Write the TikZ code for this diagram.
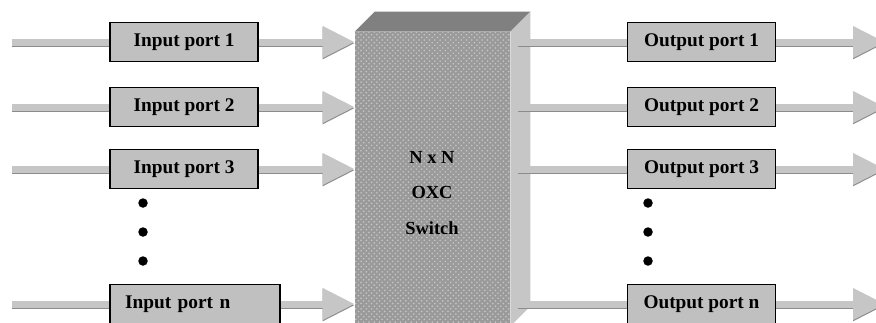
\documentclass[tikz,border=0pt]{standalone}
\usepackage{fontspec}
\setmainfont{Liberation Serif}
\usetikzlibrary{arrows.meta,calc,patterns}
\definecolor{wire}{HTML}{C6C6C6}
\definecolor{wireedge}{HTML}{8C8C8C}
\definecolor{portgrey}{HTML}{C0C0C0}
\definecolor{frontgrey}{HTML}{9A9A9A}
\definecolor{dotgrey}{HTML}{C8C8C8}
\definecolor{topgrey}{HTML}{808080}
\definecolor{sidegrey}{HTML}{C6C6C6}
\tikzset{
  port/.style={draw=black,line width=0.8pt,fill=portgrey,minimum width=#1,minimum height=0.78cm,
    inner sep=0pt,font=\bfseries\fontsize{11}{13}\selectfont},
  port/.default=2.96cm,
  wireline/.style={draw=wire,line width=0.14cm,
    preaction={draw=wireedge,line width=0.14cm,transform canvas={yshift=-0.025cm}}},
  wirearrow/.style={wireline,-{Triangle[length=0.64cm,width=0.6cm]}},
  vdot/.style={circle,fill=black,inner sep=0pt,minimum width=0.19cm,minimum height=0.16cm},
}

\begin{document}
\begin{tikzpicture}[x=0.02cm,y=-0.02cm]
  \useasboundingbox (0,0) rectangle (876,322);
  \clip (0,0) rectangle (876,322);
  % the switch: front face, top and side
  \node[draw=none,fill=frontgrey,minimum width=3.1cm,minimum height=5.88cm,inner sep=0pt,
    postaction={pattern=crosshatch dots,pattern color=dotgrey}] (sw) at (432.5,179) {};
  \fill[topgrey] (sw.north west) -- ++(20,-20) -- ($(sw.north east)+(20,-20)$) -- (sw.north east) -- cycle;
  \fill[sidegrey] (sw.north east) -- ++(20,-20) -- ($(sw.south east)+(20,-20)$) -- (sw.south east) -- cycle;
  \node[align=center,font=\bfseries\fontsize{10.5}{20.4}\selectfont] (swtxt) at (432,193) {N x N\\OXC\\Switch};
  % input ports
  \foreach \i/\y in {1/42,2/107,3/169} {
    \coordinate (src\i) at (12,\y);
    \node[port] (in\i) at (184,\y) {Input port \i};
    \draw[wireline] (src\i) -- (in\i.west);
    \draw[wirearrow] (in\i.east) -- (in\i.east -| sw.west);
  }
  \coordinate (srcn) at (12,304);
  \node[port=3.4cm,text width=2.8cm,align=left,inner xsep=0.3cm] (inn) at (195,304) {Input port n};
  \draw[wireline] (srcn) -- (inn.west);
  \draw[wirearrow] (inn.east) -- (inn.east -| sw.west);
  % output ports
  \foreach \i/\y in {1/42,2/107,3/169} {
    \coordinate (snk\i) at (885,\y);
    \node[port] (out\i) at (701.5,\y) {Output port \i};
    \draw[wireline] ($(sw.east |- out\i)+(8,0)$) -- (out\i.west);
    \draw[wirearrow] (out\i.east) -- (snk\i);
  }
  \coordinate (snkn) at (885,304);
  \node[port] (outn) at (701.5,304) {Output port n};
  \draw[wireline] ($(sw.east |- outn)+(8,0)$) -- (outn.west);
  \draw[wirearrow] (outn.east) -- (snkn);
  % dots between row 3 and row n
  \foreach \y [count=\k] in {203,232,261} {
    \node[vdot] (idot\k) at (143,\y) {};
    \node[vdot] (odot\k) at (648,\y) {};
  }
\end{tikzpicture}
\end{document}
